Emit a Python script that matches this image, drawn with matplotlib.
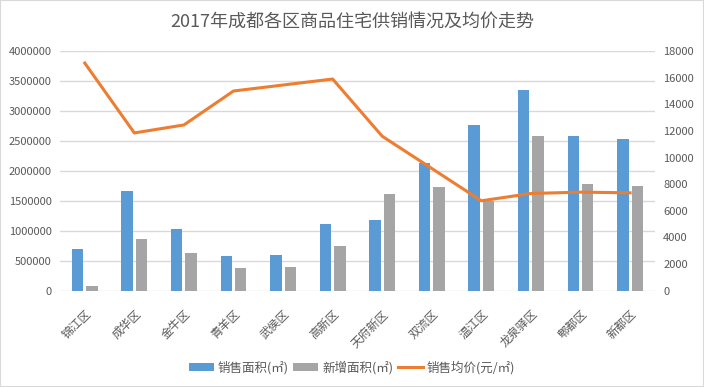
import matplotlib
matplotlib.use("Agg")
import matplotlib.pyplot as plt
import numpy as np
from matplotlib.patches import Rectangle
from matplotlib.lines import Line2D
from matplotlib.patches import Patch

plt.rcParams['font.family'] = ['Noto Sans CJK SC', 'DejaVu Sans']

categories = ["锦江区", "成华区", "金牛区", "青羊区", "武侯区", "高新区",
              "天府新区", "双流区", "温江区", "龙泉驿区", "郫都区", "新都区"]
sales_area = [700000, 1670000, 1030000, 580000, 595000, 1120000,
              1180000, 2130000, 2760000, 3350000, 2580000, 2530000]
new_area = [80000, 860000, 630000, 370000, 395000, 745000,
            1610000, 1730000, 1500000, 2580000, 1780000, 1745000]
avg_price = [17100, 11850, 12450, 15000, 15450, 15900,
             11600, 9180, 6750, 7300, 7400, 7350]
left_ticks = list(range(0, 4000001, 500000))
right_ticks = list(range(0, 18001, 2000))
title = "2017年成都各区商品住宅供销情况及均价走势"
legend_labels = ["销售面积(㎡)", "新增面积(㎡)", "销售均价(元/㎡)"]

BLUE = "#5B9BD5"
GRAY = "#A5A5A5"
ORANGE = "#ED7D31"
TXT = "#595959"
GRID = "#D9D9D9"

fig = plt.figure(figsize=(7.04, 3.87), dpi=100)
fig.patches.append(Rectangle((0, 0), 1, 1, transform=fig.transFigure,
                             fill=False, edgecolor=GRID, linewidth=1.5))
ax = fig.add_axes([0.0852, 0.249, 0.845, 0.619])
x = np.arange(len(categories))
w = 0.23
ax.bar(x - 0.145, sales_area, width=w, color=BLUE, zorder=2)
ax.bar(x + 0.145, new_area, width=w, color=GRAY, zorder=2)
ax.set_xlim(-0.5, len(categories) - 0.5)
ax.set_ylim(0, 4000000)
ax.set_yticks(left_ticks)
ax.set_yticklabels([str(v) for v in left_ticks])
ax.grid(axis='y', color=GRID, linewidth=1, zorder=0)
ax.set_axisbelow(True)
for s in ax.spines.values():
    s.set_visible(False)
ax.tick_params(axis='both', length=0, colors=TXT, labelsize=8)
ax.tick_params(axis='y', pad=6)
ax.set_xticks(x)
ax.set_xticklabels(categories, rotation=45, ha='right', rotation_mode='anchor',
                   fontsize=8.5, color=TXT)
ax.tick_params(axis='x', pad=12)

ax2 = ax.twinx()
ax2.plot(x, avg_price, color=ORANGE, linewidth=2.2, zorder=3)
ax2.set_ylim(0, 18000)
ax2.set_yticks(right_ticks)
ax2.set_yticklabels([str(v) for v in right_ticks])
for s in ax2.spines.values():
    s.set_visible(False)
ax2.tick_params(axis='y', length=0, colors=TXT, labelsize=8, pad=6)

fig.text(0.5, 0.945, title, ha='center', va='center', fontsize=13, color=TXT)

handles = [Patch(facecolor=BLUE), Patch(facecolor=GRAY),
           Line2D([0], [0], color=ORANGE, linewidth=2.2)]
fig.legend(handles, legend_labels, loc='center', bbox_to_anchor=(0.5, 0.05),
           ncol=3, frameon=False, fontsize=9, labelcolor=TXT,
           handlelength=2.0, handleheight=0.6, columnspacing=0.4, handletextpad=0.3)

fig.savefig("out.png", dpi=100)
